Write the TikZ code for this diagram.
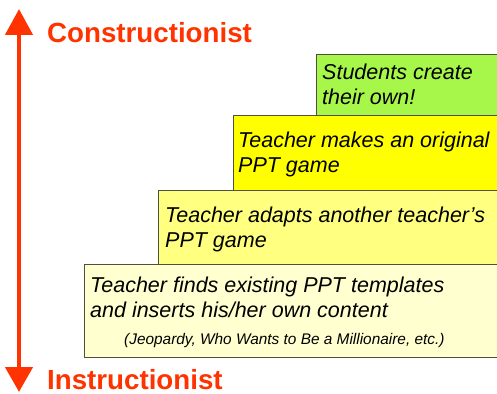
\documentclass[tikz,border=0pt]{standalone}
\usepackage{fontspec}
\setmainfont{Liberation Sans}
\usetikzlibrary{arrows.meta}
\definecolor{axisred}{RGB}{255,51,0}
\definecolor{stepgreen}{RGB}{166,247,74}
\definecolor{stepyellow}{RGB}{255,255,0}
\definecolor{steplight}{RGB}{255,255,128}
\definecolor{steppale}{RGB}{255,255,208}
\definecolor{boxedge}{RGB}{80,80,60}
\begin{document}
\begin{tikzpicture}[x=1pt,y=-1pt,
  stepbox/.style={draw=boxedge, line width=0.9pt, rectangle, inner sep=0pt, anchor=north west},
  bigtxt/.style={inner sep=0pt, anchor=base west, font=\fontsize{21.5}{25}\selectfont\itshape},
  smalltxt/.style={inner sep=0pt, anchor=base west, font=\fontsize{15.4}{18}\selectfont\itshape},
  axistxt/.style={inner sep=0pt, anchor=base west, text=axisred, font=\fontsize{27.7}{32}\selectfont\bfseries}]
\useasboundingbox (0,0) rectangle (497,393);
% steps
\node[stepbox, fill=stepgreen, minimum width=181pt, minimum height=60.5pt] (s4) at (315.5,54.5) {};
\node[stepbox, fill=stepyellow, minimum width=264pt, minimum height=74.5pt] (s3) at (232.5,115) {};
\node[stepbox, fill=steplight, minimum width=339pt, minimum height=74pt] (s2) at (157.5,189.5) {};
\node[stepbox, fill=steppale, minimum width=413pt, minimum height=93pt] (s1) at (83.5,263.5) {};
% texts
\node[bigtxt] (t4a) at (322,80) {Students create};
\node[bigtxt] (t4b) at (322,105) {their own!};
\node[bigtxt] (t3a) at (238,147) {Teacher makes an original};
\node[bigtxt] (t3b) at (238,172) {PPT game};
\node[bigtxt] (t2a) at (165,222) {Teacher adapts another teacher’s};
\node[bigtxt] (t2b) at (165,247) {PPT game};
\node[bigtxt] (t1a) at (90,292) {Teacher finds existing PPT templates};
\node[bigtxt] (t1b) at (90,317) {and inserts his/her own content};
\node[smalltxt] (t1c) at (124,344) {(Jeopardy, Who Wants to Be a Millionaire, etc.)};
% axis
\coordinate (top) at (19,9);
\coordinate (bot) at (19,392);
\draw[axisred, line width=4.5pt, {Triangle[width=27pt,length=26pt]}-{Triangle[width=27pt,length=25pt]}] (top) -- (bot);
\node[axistxt] (con) at (47,43) {Constructionist};
\node[axistxt] (ins) at (47,389) {Instructionist};
\end{tikzpicture}
\end{document}
